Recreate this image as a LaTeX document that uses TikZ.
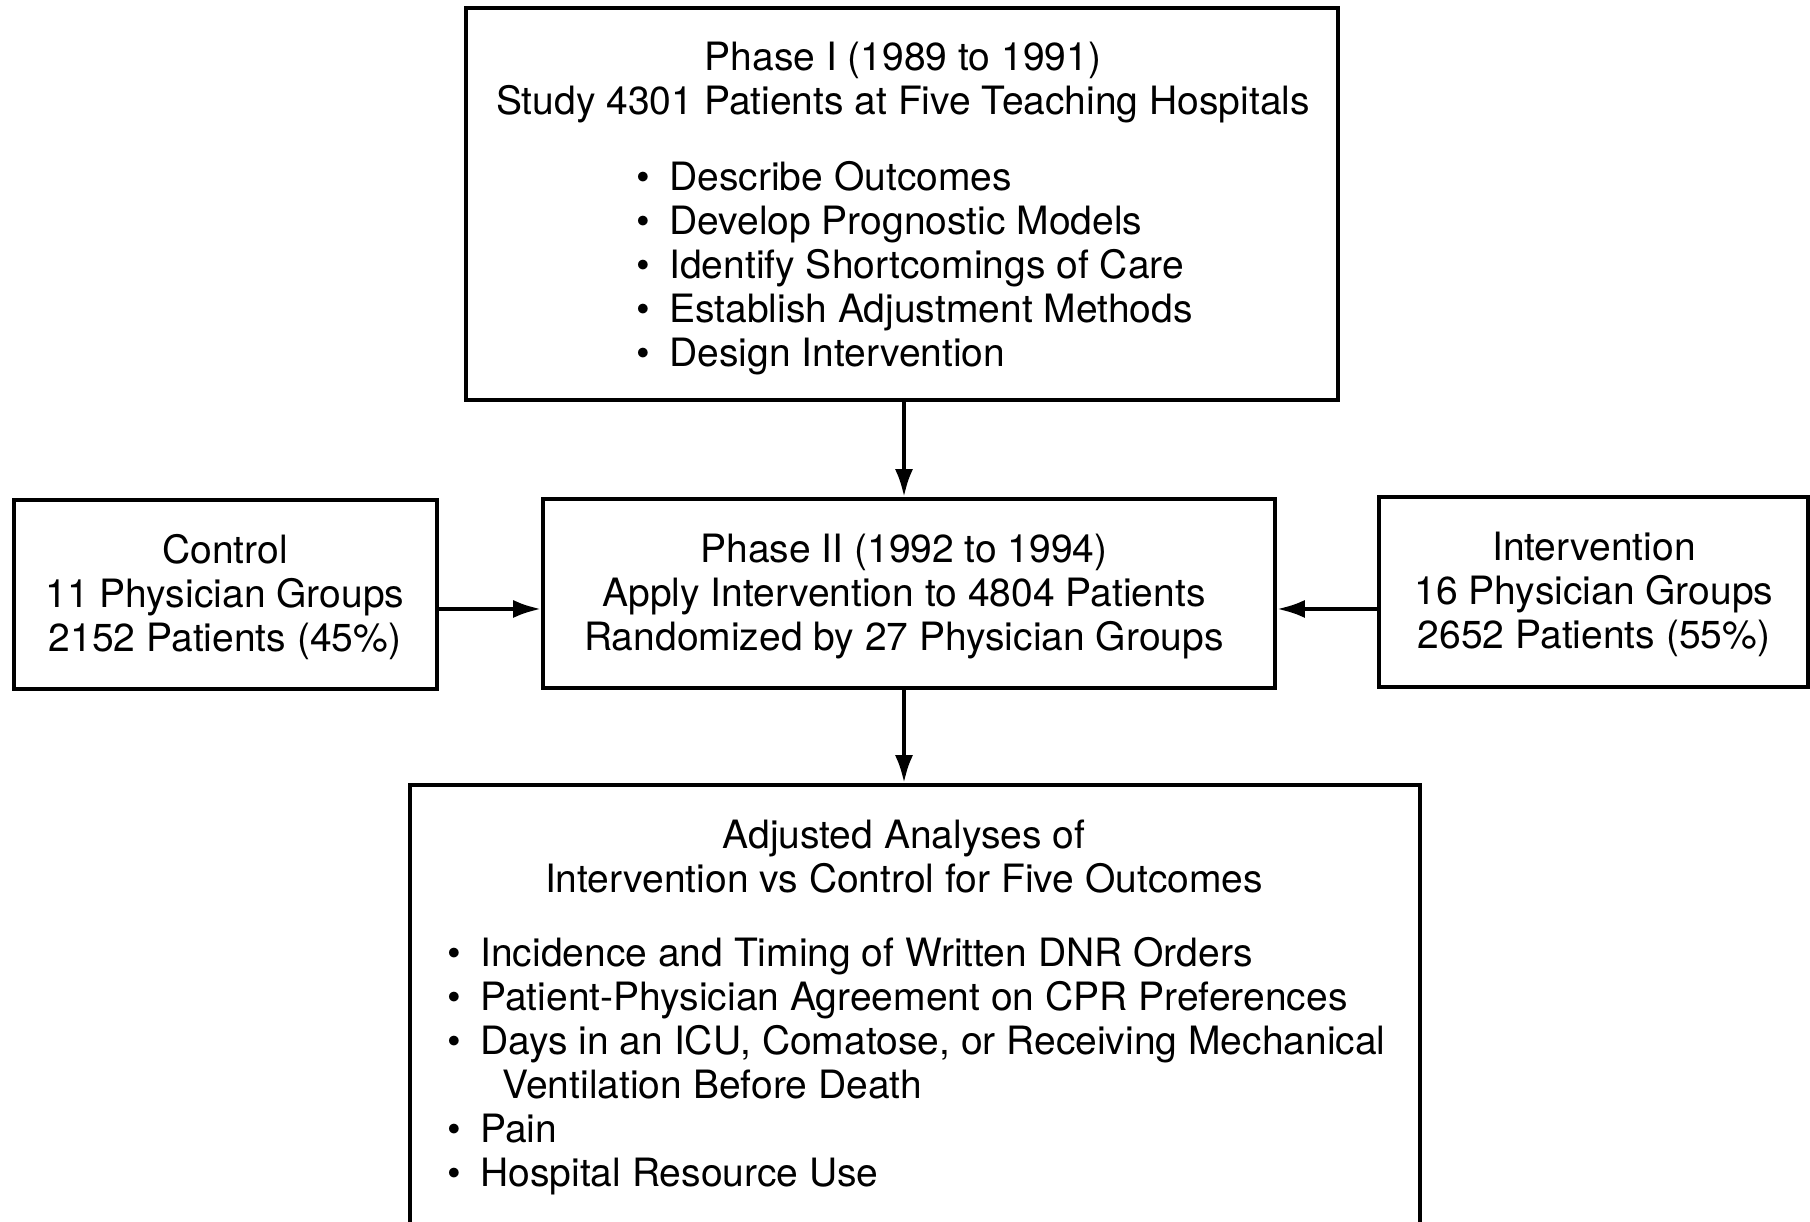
\documentclass[tikz,border=0pt]{standalone}
\usepackage{fontspec}
\setmainfont{TeX Gyre Heros}
\usetikzlibrary{arrows.meta}
\newcommand{\bul}{\textbullet\hspace{0.19cm}}
\tikzset{
  box/.style={draw=black,line width=1pt,inner sep=0pt},
  txt/.style={align=center,inner sep=0pt,font=\fontsize{11.1}{12.5}\selectfont},
  lst/.style={align=left,anchor=west,inner sep=0pt,font=\fontsize{11.1}{12.5}\selectfont},
  flow/.style={draw=black,line width=1.2pt,-{Latex[length=0.28cm,width=0.18cm]}}
}
\begin{document}
\begin{tikzpicture}
\useasboundingbox (0,0) rectangle (18.1,12.22);
\clip (0,0) rectangle (18.1,12.22);
% boxes
\node[box,minimum width=8.72cm,minimum height=3.92cm] (phaseone) at (9.02,10.18) {};
\node[box,minimum width=4.23cm,minimum height=1.89cm] (control) at (2.255,6.275) {};
\node[box,minimum width=7.32cm,minimum height=1.89cm] (phasetwo) at (9.09,6.285) {};
\node[box,minimum width=4.29cm,minimum height=1.90cm] (interv) at (15.935,6.30) {};
\node[box,minimum width=10.1cm,minimum height=4.77cm] (analyses) at (9.15,1.985) {};
% texts
\node[txt] (phaseonetitle) at (9.03,11.395) {Phase I (1989 to 1991)\\Study 4301 Patients at Five Teaching Hospitals};
\node[lst] (phaseonelist) at (6.36,9.54) {\bul Describe Outcomes\\
\bul Develop Prognostic Models\\
\bul Identify Shortcomings of Care\\
\bul Establish Adjustment Methods\\
\bul Design Intervention};
\node[txt] (controltext) at (2.25,6.245) {Control\\11 Physician Groups\\2152 Patients (45\%)};
\node[txt] (phasetwotext) at (9.04,6.255) {Phase II (1992 to 1994)\\Apply Intervention to 4804 Patients\\Randomized by 27 Physician Groups};
\node[txt] (intervtext) at (15.94,6.275) {Intervention\\16 Physician Groups\\2652 Patients (55\%)};
\node[txt] (analysestitle) at (9.04,3.65) {Adjusted Analyses of\\Intervention vs Control for Five Outcomes};
\node[lst] (analyseslist) at (4.47,1.56) {\bul Incidence and Timing of Written DNR Orders\\
\bul Patient-Physician Agreement on CPR Preferences\\
\bul Days in an ICU, Comatose, or Receiving Mechanical\\
\phantom{\bul}\hspace{0.22cm}Ventilation Before Death\\
\bul Pain\\
\bul Hospital Resource Use};
% arrows
\draw[flow] (phaseone.south -| 9.04,0) -- (phasetwo.north -| 9.04,0);
\draw[flow] (control.east |- 0,6.13) -- (phasetwo.west |- 0,6.13);
\draw[flow] (interv.west |- 0,6.13) -- (phasetwo.east |- 0,6.13);
\draw[flow] (phasetwo.south -| 9.04,0) -- (analyses.north -| 9.04,0);
\end{tikzpicture}
\end{document}
